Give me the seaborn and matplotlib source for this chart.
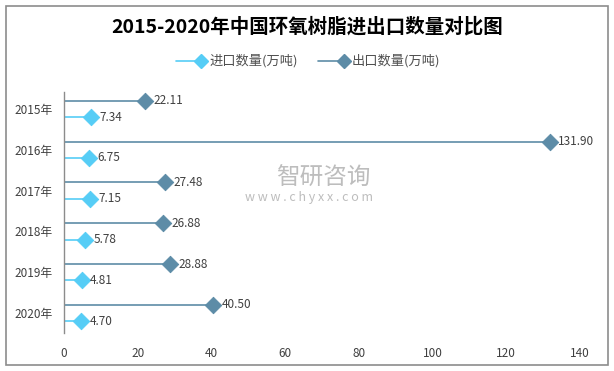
import numpy as np
import pandas as pd
import matplotlib
matplotlib.use("Agg")
import matplotlib.pyplot as plt
from matplotlib.lines import Line2D
from matplotlib.patches import Rectangle
import seaborn as sns

## data
years = ["2015年", "2016年", "2017年", "2018年", "2019年", "2020年"]
imports = [7.34, 6.75, 7.15, 5.78, 4.81, 4.70]
exports = [22.11, 131.90, 27.48, 26.88, 28.88, 40.50]
series_names = ["进口数量(万吨)", "出口数量(万吨)"]

c_imp = "#56CDF6"
c_exp = "#5D8CA7"

sns.set_theme(style="white")
plt.rcParams['font.family'] = ['Noto Sans CJK SC', 'DejaVu Sans']

pos = np.arange(len(years))
df = pd.DataFrame({"year": years, "pos": pos, "进口": imports, "出口": exports})
df["pos_exp"] = df["pos"] - 0.2
df["pos_imp"] = df["pos"] + 0.2

W, H = 614, 371
fig = plt.figure(figsize=(W / 100, H / 100), dpi=100)
ax = fig.add_axes([0.1042, 0.1024, 0.8404, 0.6496])

## stems from zero
ax.hlines(df["pos_exp"], 0, df["出口"], color=c_exp, lw=1.2, zorder=2)
ax.hlines(df["pos_imp"], 0, df["进口"], color=c_imp, lw=1.2, zorder=2)
sns.scatterplot(data=df, x="出口", y="pos_exp", marker="D", s=70, color=c_exp,
                edgecolor=c_exp, ax=ax, zorder=3, legend=False)
sns.scatterplot(data=df, x="进口", y="pos_imp", marker="D", s=70, color=c_imp,
                edgecolor=c_imp, ax=ax, zorder=3, legend=False)

for _, r in df.iterrows():
    ax.text(r["出口"] + 2.2, r["pos_exp"], f"{r['出口']:.2f}", va="center",
            ha="left", fontsize=8.5, color="#404040")
    ax.text(r["进口"] + 2.2, r["pos_imp"], f"{r['进口']:.2f}", va="center",
            ha="left", fontsize=8.5, color="#404040")

ax.set_xlim(0, 140)
ax.set_xticks(range(0, 141, 20))
ax.set_ylim(5.49, -0.417)
ax.set_yticks(pos)
ax.set_yticklabels(years)
ax.set_xlabel("")
ax.set_ylabel("")
ax.tick_params(axis="both", length=0, labelsize=8.5, labelcolor="#404040")
ax.tick_params(axis="x", pad=10)
ax.tick_params(axis="y", pad=8)
for s in ["top", "right", "bottom"]:
    ax.spines[s].set_visible(False)
ax.spines["left"].set_color("#8C8C8C")
ax.spines["left"].set_linewidth(1.0)
ax.grid(False)

## title
fig.text(0.5, 1 - 27 / H, "2015-2020年中国环氧树脂进出口数量对比图", ha="center",
         va="center", fontsize=14, fontweight="bold", color="#000000")

## legend: line with diamond at its right end
ly = 1 - 61 / H
for (x0, x1, tx), col, name in zip([(176, 201, 209), (318, 344, 352)],
                                   [c_imp, c_exp], series_names):
    fig.add_artist(Line2D([x0 / W, x1 / W], [ly, ly], color=col, lw=1.2,
                          transform=fig.transFigure))
    fig.add_artist(Line2D([x1 / W], [ly], color=col, marker="D", markersize=7,
                          transform=fig.transFigure))
    fig.text(tx / W, ly, name, ha="left", va="center", fontsize=9.5,
             color="#505050")

## watermark
fig.text(323 / W, 1 - 178 / H, "智研咨询", ha="center", va="center",
         fontsize=17, color="#BDBDBD")
fig.text(309 / W, 1 - 197 / H, "w w w . c h y x x . c o m", ha="center",
         va="center", fontsize=9, color="#BDBDBD")

## outer border
fig.add_artist(Rectangle((6 / W, 6 / H), 602 / W, 359 / H, transform=fig.transFigure,
                         fill=False, edgecolor="#8C8C8C", lw=1.2))

fig.savefig("out.png", dpi=100)
